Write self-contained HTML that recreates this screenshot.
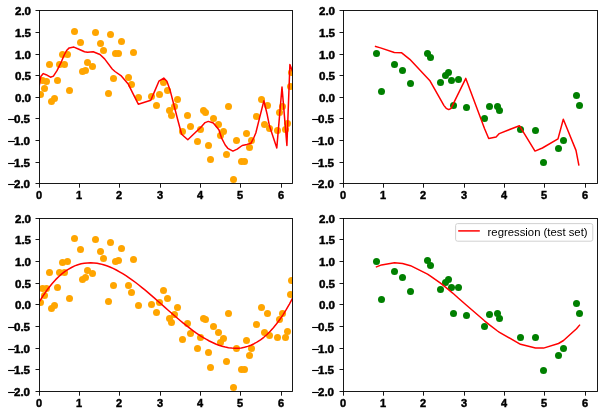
<!DOCTYPE html><html><head><meta charset="utf-8"><style>html,body{margin:0;padding:0;background:#fff;}svg{display:block;} .t{opacity:0.999}text{font-family:"Liberation Sans",sans-serif;}</style></head><body>
<svg width="603" height="415" viewBox="0 0 603 415">
<rect width="603" height="415" fill="#fff"/>
<defs><filter id="gf" x="0" y="0" width="603" height="415" filterUnits="userSpaceOnUse"><feOffset dx="0" dy="0"/></filter>
<clipPath id="c1"><rect x="39.5" y="10.5" width="253.0" height="173.0"/></clipPath>
<clipPath id="c2"><rect x="343.5" y="10.5" width="254.0" height="173.0"/></clipPath>
<clipPath id="c3"><rect x="39.5" y="218.5" width="253.0" height="173.0"/></clipPath>
<clipPath id="c4"><rect x="343.5" y="218.5" width="254.0" height="173.0"/></clipPath>
</defs>
<g clip-path="url(#c1)" fill="#ffa500">
<circle cx="74.5" cy="31.5" r="3.5"/>
<circle cx="95.5" cy="32.5" r="3.5"/>
<circle cx="110.5" cy="34.5" r="3.5"/>
<circle cx="80.5" cy="42.5" r="3.5"/>
<circle cx="100.5" cy="43.5" r="3.5"/>
<circle cx="121.5" cy="41.5" r="3.5"/>
<circle cx="103.5" cy="50.5" r="3.5"/>
<circle cx="115.5" cy="53.5" r="3.5"/>
<circle cx="118.5" cy="53.5" r="3.5"/>
<circle cx="62.5" cy="54.5" r="3.5"/>
<circle cx="67.5" cy="54.5" r="3.5"/>
<circle cx="49.5" cy="64.5" r="3.5"/>
<circle cx="59.5" cy="64.5" r="3.5"/>
<circle cx="64.5" cy="64.5" r="3.5"/>
<circle cx="87.5" cy="62.5" r="3.5"/>
<circle cx="92.5" cy="66.5" r="3.5"/>
<circle cx="133.5" cy="52.5" r="3.5"/>
<circle cx="82.5" cy="71.5" r="3.5"/>
<circle cx="85.5" cy="70.5" r="3.5"/>
<circle cx="42.5" cy="80.5" r="3.5"/>
<circle cx="46.5" cy="81.5" r="3.5"/>
<circle cx="57.5" cy="80.5" r="3.5"/>
<circle cx="113.5" cy="78.5" r="3.5"/>
<circle cx="44.5" cy="88.5" r="3.5"/>
<circle cx="69.5" cy="90.5" r="3.5"/>
<circle cx="40.5" cy="94.5" r="3.5"/>
<circle cx="108.5" cy="93.5" r="3.5"/>
<circle cx="51.5" cy="101.5" r="3.5"/>
<circle cx="54.5" cy="98.5" r="3.5"/>
<circle cx="128.5" cy="77.5" r="3.5"/>
<circle cx="131.5" cy="84.5" r="3.5"/>
<circle cx="138.5" cy="97.5" r="3.5"/>
<circle cx="151.5" cy="96.5" r="3.5"/>
<circle cx="159.5" cy="94.5" r="3.5"/>
<circle cx="156.5" cy="105.5" r="3.5"/>
<circle cx="163.5" cy="82.5" r="3.5"/>
<circle cx="167.5" cy="90.5" r="3.5"/>
<circle cx="177.5" cy="99.5" r="3.5"/>
<circle cx="174.5" cy="106.5" r="3.5"/>
<circle cx="169.5" cy="110.5" r="3.5"/>
<circle cx="171.5" cy="115.5" r="3.5"/>
<circle cx="187.5" cy="115.5" r="3.5"/>
<circle cx="203.5" cy="110.5" r="3.5"/>
<circle cx="205.5" cy="112.5" r="3.5"/>
<circle cx="213.5" cy="118.5" r="3.5"/>
<circle cx="228.5" cy="106.5" r="3.5"/>
<circle cx="261.5" cy="99.5" r="3.5"/>
<circle cx="267.5" cy="105.5" r="3.5"/>
<circle cx="256.5" cy="116.5" r="3.5"/>
<circle cx="279.5" cy="112.5" r="3.5"/>
<circle cx="282.5" cy="106.5" r="3.5"/>
<circle cx="290.5" cy="86.5" r="3.5"/>
<circle cx="291.5" cy="72.5" r="3.5"/>
<circle cx="190.5" cy="126.5" r="3.5"/>
<circle cx="182.5" cy="131.5" r="3.5"/>
<circle cx="200.5" cy="129.5" r="3.5"/>
<circle cx="197.5" cy="141.5" r="3.5"/>
<circle cx="218.5" cy="124.5" r="3.5"/>
<circle cx="223.5" cy="131.5" r="3.5"/>
<circle cx="220.5" cy="135.5" r="3.5"/>
<circle cx="208.5" cy="145.5" r="3.5"/>
<circle cx="210.5" cy="159.5" r="3.5"/>
<circle cx="226.5" cy="154.5" r="3.5"/>
<circle cx="236.5" cy="140.5" r="3.5"/>
<circle cx="246.5" cy="133.5" r="3.5"/>
<circle cx="251.5" cy="140.5" r="3.5"/>
<circle cx="249.5" cy="147.5" r="3.5"/>
<circle cx="241.5" cy="161.5" r="3.5"/>
<circle cx="244.5" cy="161.5" r="3.5"/>
<circle cx="264.5" cy="124.5" r="3.5"/>
<circle cx="269.5" cy="128.5" r="3.5"/>
<circle cx="277.5" cy="130.5" r="3.5"/>
<circle cx="285.5" cy="129.5" r="3.5"/>
<circle cx="287.5" cy="123.5" r="3.5"/>
<circle cx="233.5" cy="179.5" r="3.5"/>
</g>
<g clip-path="url(#c3)" fill="#ffa500">
<circle cx="74.5" cy="238.5" r="3.5"/>
<circle cx="95.5" cy="239.5" r="3.5"/>
<circle cx="110.5" cy="242.5" r="3.5"/>
<circle cx="80.5" cy="249.5" r="3.5"/>
<circle cx="100.5" cy="251.5" r="3.5"/>
<circle cx="121.5" cy="248.5" r="3.5"/>
<circle cx="103.5" cy="258.5" r="3.5"/>
<circle cx="115.5" cy="261.5" r="3.5"/>
<circle cx="118.5" cy="260.5" r="3.5"/>
<circle cx="62.5" cy="262.5" r="3.5"/>
<circle cx="67.5" cy="261.5" r="3.5"/>
<circle cx="49.5" cy="272.5" r="3.5"/>
<circle cx="59.5" cy="272.5" r="3.5"/>
<circle cx="64.5" cy="272.5" r="3.5"/>
<circle cx="87.5" cy="270.5" r="3.5"/>
<circle cx="92.5" cy="273.5" r="3.5"/>
<circle cx="133.5" cy="259.5" r="3.5"/>
<circle cx="82.5" cy="279.5" r="3.5"/>
<circle cx="85.5" cy="277.5" r="3.5"/>
<circle cx="42.5" cy="288.5" r="3.5"/>
<circle cx="46.5" cy="288.5" r="3.5"/>
<circle cx="57.5" cy="287.5" r="3.5"/>
<circle cx="113.5" cy="285.5" r="3.5"/>
<circle cx="44.5" cy="295.5" r="3.5"/>
<circle cx="69.5" cy="298.5" r="3.5"/>
<circle cx="40.5" cy="302.5" r="3.5"/>
<circle cx="108.5" cy="301.5" r="3.5"/>
<circle cx="51.5" cy="308.5" r="3.5"/>
<circle cx="54.5" cy="305.5" r="3.5"/>
<circle cx="128.5" cy="285.5" r="3.5"/>
<circle cx="131.5" cy="292.5" r="3.5"/>
<circle cx="138.5" cy="305.5" r="3.5"/>
<circle cx="151.5" cy="304.5" r="3.5"/>
<circle cx="159.5" cy="302.5" r="3.5"/>
<circle cx="156.5" cy="312.5" r="3.5"/>
<circle cx="163.5" cy="290.5" r="3.5"/>
<circle cx="167.5" cy="298.5" r="3.5"/>
<circle cx="177.5" cy="307.5" r="3.5"/>
<circle cx="174.5" cy="314.5" r="3.5"/>
<circle cx="169.5" cy="318.5" r="3.5"/>
<circle cx="171.5" cy="322.5" r="3.5"/>
<circle cx="187.5" cy="323.5" r="3.5"/>
<circle cx="203.5" cy="318.5" r="3.5"/>
<circle cx="205.5" cy="319.5" r="3.5"/>
<circle cx="213.5" cy="326.5" r="3.5"/>
<circle cx="228.5" cy="313.5" r="3.5"/>
<circle cx="261.5" cy="307.5" r="3.5"/>
<circle cx="267.5" cy="313.5" r="3.5"/>
<circle cx="256.5" cy="324.5" r="3.5"/>
<circle cx="279.5" cy="319.5" r="3.5"/>
<circle cx="282.5" cy="313.5" r="3.5"/>
<circle cx="290.5" cy="294.5" r="3.5"/>
<circle cx="291.5" cy="280.5" r="3.5"/>
<circle cx="190.5" cy="333.5" r="3.5"/>
<circle cx="182.5" cy="339.5" r="3.5"/>
<circle cx="200.5" cy="337.5" r="3.5"/>
<circle cx="197.5" cy="348.5" r="3.5"/>
<circle cx="218.5" cy="332.5" r="3.5"/>
<circle cx="223.5" cy="338.5" r="3.5"/>
<circle cx="220.5" cy="342.5" r="3.5"/>
<circle cx="208.5" cy="352.5" r="3.5"/>
<circle cx="210.5" cy="367.5" r="3.5"/>
<circle cx="226.5" cy="361.5" r="3.5"/>
<circle cx="236.5" cy="348.5" r="3.5"/>
<circle cx="246.5" cy="340.5" r="3.5"/>
<circle cx="251.5" cy="348.5" r="3.5"/>
<circle cx="249.5" cy="355.5" r="3.5"/>
<circle cx="241.5" cy="369.5" r="3.5"/>
<circle cx="244.5" cy="369.5" r="3.5"/>
<circle cx="264.5" cy="332.5" r="3.5"/>
<circle cx="269.5" cy="335.5" r="3.5"/>
<circle cx="277.5" cy="337.5" r="3.5"/>
<circle cx="285.5" cy="337.5" r="3.5"/>
<circle cx="287.5" cy="331.5" r="3.5"/>
<circle cx="233.5" cy="387.5" r="3.5"/>
</g>
<g clip-path="url(#c2)" fill="#008000">
<circle cx="376.5" cy="53.5" r="3.5"/>
<circle cx="381.5" cy="91.5" r="3.5"/>
<circle cx="394.5" cy="64.5" r="3.5"/>
<circle cx="402.5" cy="70.5" r="3.5"/>
<circle cx="410.5" cy="83.5" r="3.5"/>
<circle cx="427.5" cy="53.5" r="3.5"/>
<circle cx="430.5" cy="57.5" r="3.5"/>
<circle cx="440.5" cy="82.5" r="3.5"/>
<circle cx="445.5" cy="75.5" r="3.5"/>
<circle cx="448.5" cy="72.5" r="3.5"/>
<circle cx="451.5" cy="80.5" r="3.5"/>
<circle cx="458.5" cy="79.5" r="3.5"/>
<circle cx="453.5" cy="105.5" r="3.5"/>
<circle cx="466.5" cy="107.5" r="3.5"/>
<circle cx="484.5" cy="118.5" r="3.5"/>
<circle cx="489.5" cy="106.5" r="3.5"/>
<circle cx="497.5" cy="106.5" r="3.5"/>
<circle cx="499.5" cy="110.5" r="3.5"/>
<circle cx="520.5" cy="129.5" r="3.5"/>
<circle cx="535.5" cy="130.5" r="3.5"/>
<circle cx="543.5" cy="162.5" r="3.5"/>
<circle cx="558.5" cy="148.5" r="3.5"/>
<circle cx="563.5" cy="140.5" r="3.5"/>
<circle cx="576.5" cy="95.5" r="3.5"/>
<circle cx="579.5" cy="105.5" r="3.5"/>
</g>
<g clip-path="url(#c4)" fill="#008000">
<circle cx="376.5" cy="261.5" r="3.5"/>
<circle cx="381.5" cy="299.5" r="3.5"/>
<circle cx="394.5" cy="271.5" r="3.5"/>
<circle cx="402.5" cy="277.5" r="3.5"/>
<circle cx="410.5" cy="291.5" r="3.5"/>
<circle cx="427.5" cy="260.5" r="3.5"/>
<circle cx="430.5" cy="265.5" r="3.5"/>
<circle cx="440.5" cy="289.5" r="3.5"/>
<circle cx="445.5" cy="282.5" r="3.5"/>
<circle cx="448.5" cy="279.5" r="3.5"/>
<circle cx="451.5" cy="287.5" r="3.5"/>
<circle cx="458.5" cy="287.5" r="3.5"/>
<circle cx="453.5" cy="313.5" r="3.5"/>
<circle cx="466.5" cy="315.5" r="3.5"/>
<circle cx="484.5" cy="326.5" r="3.5"/>
<circle cx="489.5" cy="314.5" r="3.5"/>
<circle cx="497.5" cy="313.5" r="3.5"/>
<circle cx="499.5" cy="318.5" r="3.5"/>
<circle cx="520.5" cy="337.5" r="3.5"/>
<circle cx="535.5" cy="337.5" r="3.5"/>
<circle cx="543.5" cy="370.5" r="3.5"/>
<circle cx="558.5" cy="355.5" r="3.5"/>
<circle cx="563.5" cy="348.5" r="3.5"/>
<circle cx="576.5" cy="303.5" r="3.5"/>
<circle cx="579.5" cy="313.5" r="3.5"/>
</g>
<g clip-path="url(#c1)"><polyline points="39.5,84.5 40.0,80.5 40.8,76.6 43.3,73.6 46.1,74.7 50.5,77.2 53.4,76.1 57.0,70.7 61.3,62.0 64.2,55.0 66.6,50.5 69.2,47.9 73.9,47.1 78.9,49.2 84.5,51.7 87.5,52.3 93.2,51.7 100.0,54.5 104.6,58.9 112.2,69.0 115.0,71.5 120.9,75.6 128.4,84.3 132.6,92.9 138.3,104.2 150.8,100.2 154.7,91.1 158.9,81.2 163.8,78.1 166.9,81.2 170.0,89.9 177.6,119.3 181.6,134.2 187.8,139.8 193.5,134.3 200.9,127.3 205.1,122.6 208.3,121.4 213.3,123.0 218.9,129.8 221.4,137.6 225.2,145.0 227.8,148.3 232.9,151.1 237.2,149.1 242.2,145.5 246.9,144.4 250.9,143.3 253.9,137.5 255.8,133.0 259.5,118.1 263.9,100.8 267.0,113.7 269.5,126.1 276.8,147.9 282.0,87.1 286.9,145.4 289.9,64.5 293.5,74.0" fill="none" stroke="#ff0000" stroke-width="1.5" stroke-linejoin="round" stroke-linecap="square"/></g>
<g clip-path="url(#c2)"><polyline points="375.6,46.5 380.5,47.9 394.3,52.5 401.7,52.8 409.8,59.3 429.7,80.4 444.0,105.6 446.2,108.3 448.7,109.6 451.2,108.3 452.5,105.3 465.8,78.4 484.5,128.5 488.7,138.5 496.1,137.0 499.3,133.6 519.4,125.7 535.0,151.1 542.4,148.0 558.0,138.9 563.3,119.3 576.0,150.4 578.8,164.9" fill="none" stroke="#ff0000" stroke-width="1.5" stroke-linejoin="round" stroke-linecap="square"/></g>
<g clip-path="url(#c3)"><polyline points="39.4,301.7 42.6,296.5 45.8,291.8 49.0,287.4 52.2,283.5 55.4,279.9 58.6,276.7 61.8,273.9 65.0,271.4 68.2,269.3 71.5,267.5 74.7,265.9 77.9,264.7 81.1,263.8 84.3,263.2 87.5,262.9 90.7,262.8 93.9,262.9 97.1,263.3 100.3,263.9 103.5,264.8 106.7,265.8 109.9,267.0 113.1,268.4 116.3,270.0 119.5,271.8 122.7,273.7 125.9,275.7 129.1,277.9 132.3,280.1 135.6,282.5 138.8,285.0 142.0,287.6 145.2,290.2 148.4,292.9 151.6,295.6 154.8,298.4 158.0,301.2 161.2,304.0 164.4,306.9 167.6,309.7 170.8,312.5 174.0,315.3 177.2,318.0 180.4,320.7 183.6,323.4 186.8,325.9 190.0,328.4 193.2,330.8 196.4,333.1 199.7,335.3 202.9,337.3 206.1,339.2 209.3,341.0 212.5,342.5 215.7,344.0 218.9,345.2 222.1,346.3 225.3,347.1 228.5,347.7 231.7,348.1 234.9,348.3 238.1,348.2 241.3,347.9 244.5,347.3 247.7,346.4 250.9,345.2 254.1,343.7 257.3,341.9 260.5,339.8 263.8,337.3 267.0,334.5 270.2,331.3 273.4,327.7 276.6,323.8 279.8,319.5 283.0,314.8 286.2,309.7 289.4,304.1 292.6,298.1" fill="none" stroke="#ff0000" stroke-width="1.5" stroke-linejoin="round"/></g>
<g clip-path="url(#c4)"><polyline points="376.5,266.9 381.5,264.9 394.5,262.8 402.5,263.5 410.5,265.7 427.5,274.1 430.5,276.1 440.5,283.2 445.5,287.2 448.5,289.6 451.5,292.1 453.5,293.8 458.5,298.2 466.5,305.2 484.5,320.8 489.5,324.9 497.5,331.0 499.5,332.4 520.5,344.3 535.5,348.1 543.5,348.1 558.5,343.5 563.5,340.5 576.5,328.7 579.5,325.2" fill="none" stroke="#ff0000" stroke-width="1.5" stroke-linejoin="round" stroke-linecap="square"/></g>
<g filter="url(#gf)">
<rect x="39.5" y="10.5" width="253.0" height="173.0" fill="none" stroke="#000" stroke-width="0.9"/>
<text x="39.10" y="199.0" font-size="11" text-anchor="middle" font-weight="bold" stroke="#000" stroke-width="0.45">0</text>
<text x="79.10" y="199.0" font-size="11" text-anchor="middle" font-weight="bold" stroke="#000" stroke-width="0.45">1</text>
<text x="119.10" y="199.0" font-size="11" text-anchor="middle" font-weight="bold" stroke="#000" stroke-width="0.45">2</text>
<text x="160.10" y="199.0" font-size="11" text-anchor="middle" font-weight="bold" stroke="#000" stroke-width="0.45">3</text>
<text x="200.10" y="199.0" font-size="11" text-anchor="middle" font-weight="bold" stroke="#000" stroke-width="0.45">4</text>
<text x="240.10" y="199.0" font-size="11" text-anchor="middle" font-weight="bold" stroke="#000" stroke-width="0.45">5</text>
<text x="281.10" y="199.0" font-size="11" text-anchor="middle" font-weight="bold" stroke="#000" stroke-width="0.45">6</text>
<text transform="translate(31.10,15.00) scale(1.06,1)" font-size="11" text-anchor="end" font-weight="bold" stroke="#000" stroke-width="0.45">2.0</text>
<text transform="translate(31.10,37.00) scale(1.06,1)" font-size="11" text-anchor="end" font-weight="bold" stroke="#000" stroke-width="0.45">1.5</text>
<text transform="translate(31.10,59.00) scale(1.06,1)" font-size="11" text-anchor="end" font-weight="bold" stroke="#000" stroke-width="0.45">1.0</text>
<text transform="translate(31.10,80.00) scale(1.06,1)" font-size="11" text-anchor="end" font-weight="bold" stroke="#000" stroke-width="0.45">0.5</text>
<text transform="translate(31.10,102.00) scale(1.06,1)" font-size="11" text-anchor="end" font-weight="bold" stroke="#000" stroke-width="0.45">0.0</text>
<text transform="translate(30.10,123.00) scale(1.06,1)" font-size="11" text-anchor="end" font-weight="bold" stroke="#000" stroke-width="0.45">0.5</text>
<rect x="8.10" y="118.95" width="6.8" height="1.1" fill="#000"/>
<text transform="translate(30.10,145.00) scale(1.06,1)" font-size="11" text-anchor="end" font-weight="bold" stroke="#000" stroke-width="0.45">1.0</text>
<rect x="8.10" y="140.95" width="6.8" height="1.1" fill="#000"/>
<text transform="translate(30.10,167.00) scale(1.06,1)" font-size="11" text-anchor="end" font-weight="bold" stroke="#000" stroke-width="0.45">1.5</text>
<rect x="8.10" y="162.95" width="6.8" height="1.1" fill="#000"/>
<text transform="translate(30.10,188.00) scale(1.06,1)" font-size="11" text-anchor="end" font-weight="bold" stroke="#000" stroke-width="0.45">2.0</text>
<rect x="8.10" y="183.95" width="6.8" height="1.1" fill="#000"/>
<path d="M39.50,183.5v4.2 M79.50,183.5v4.2 M119.50,183.5v4.2 M160.50,183.5v4.2 M200.50,183.5v4.2 M240.50,183.5v4.2 M281.50,183.5v4.2 M39.5,10.50h-4.0 M39.5,32.50h-4.0 M39.5,54.50h-4.0 M39.5,75.50h-4.0 M39.5,97.50h-4.0 M39.5,118.50h-4.0 M39.5,140.50h-4.0 M39.5,162.50h-4.0 M39.5,183.50h-4.0" stroke="#000" stroke-width="0.9"/>
<rect x="343.5" y="10.5" width="254.0" height="173.0" fill="none" stroke="#000" stroke-width="0.9"/>
<text x="343.10" y="199.0" font-size="11" text-anchor="middle" font-weight="bold" stroke="#000" stroke-width="0.45">0</text>
<text x="383.10" y="199.0" font-size="11" text-anchor="middle" font-weight="bold" stroke="#000" stroke-width="0.45">1</text>
<text x="423.10" y="199.0" font-size="11" text-anchor="middle" font-weight="bold" stroke="#000" stroke-width="0.45">2</text>
<text x="464.10" y="199.0" font-size="11" text-anchor="middle" font-weight="bold" stroke="#000" stroke-width="0.45">3</text>
<text x="504.10" y="199.0" font-size="11" text-anchor="middle" font-weight="bold" stroke="#000" stroke-width="0.45">4</text>
<text x="544.10" y="199.0" font-size="11" text-anchor="middle" font-weight="bold" stroke="#000" stroke-width="0.45">5</text>
<text x="585.10" y="199.0" font-size="11" text-anchor="middle" font-weight="bold" stroke="#000" stroke-width="0.45">6</text>
<text transform="translate(335.10,15.00) scale(1.06,1)" font-size="11" text-anchor="end" font-weight="bold" stroke="#000" stroke-width="0.45">2.0</text>
<text transform="translate(335.10,37.00) scale(1.06,1)" font-size="11" text-anchor="end" font-weight="bold" stroke="#000" stroke-width="0.45">1.5</text>
<text transform="translate(335.10,59.00) scale(1.06,1)" font-size="11" text-anchor="end" font-weight="bold" stroke="#000" stroke-width="0.45">1.0</text>
<text transform="translate(335.10,80.00) scale(1.06,1)" font-size="11" text-anchor="end" font-weight="bold" stroke="#000" stroke-width="0.45">0.5</text>
<text transform="translate(335.10,102.00) scale(1.06,1)" font-size="11" text-anchor="end" font-weight="bold" stroke="#000" stroke-width="0.45">0.0</text>
<text transform="translate(334.10,123.00) scale(1.06,1)" font-size="11" text-anchor="end" font-weight="bold" stroke="#000" stroke-width="0.45">0.5</text>
<rect x="312.10" y="118.95" width="6.8" height="1.1" fill="#000"/>
<text transform="translate(334.10,145.00) scale(1.06,1)" font-size="11" text-anchor="end" font-weight="bold" stroke="#000" stroke-width="0.45">1.0</text>
<rect x="312.10" y="140.95" width="6.8" height="1.1" fill="#000"/>
<text transform="translate(334.10,167.00) scale(1.06,1)" font-size="11" text-anchor="end" font-weight="bold" stroke="#000" stroke-width="0.45">1.5</text>
<rect x="312.10" y="162.95" width="6.8" height="1.1" fill="#000"/>
<text transform="translate(334.10,188.00) scale(1.06,1)" font-size="11" text-anchor="end" font-weight="bold" stroke="#000" stroke-width="0.45">2.0</text>
<rect x="312.10" y="183.95" width="6.8" height="1.1" fill="#000"/>
<path d="M343.50,183.5v4.2 M383.50,183.5v4.2 M423.50,183.5v4.2 M464.50,183.5v4.2 M504.50,183.5v4.2 M544.50,183.5v4.2 M585.50,183.5v4.2 M343.5,10.50h-4.0 M343.5,32.50h-4.0 M343.5,54.50h-4.0 M343.5,75.50h-4.0 M343.5,97.50h-4.0 M343.5,118.50h-4.0 M343.5,140.50h-4.0 M343.5,162.50h-4.0 M343.5,183.50h-4.0" stroke="#000" stroke-width="0.9"/>
<rect x="39.5" y="218.5" width="253.0" height="173.0" fill="none" stroke="#000" stroke-width="0.9"/>
<text x="39.10" y="407.0" font-size="11" text-anchor="middle" font-weight="bold" stroke="#000" stroke-width="0.45">0</text>
<text x="79.10" y="407.0" font-size="11" text-anchor="middle" font-weight="bold" stroke="#000" stroke-width="0.45">1</text>
<text x="119.10" y="407.0" font-size="11" text-anchor="middle" font-weight="bold" stroke="#000" stroke-width="0.45">2</text>
<text x="160.10" y="407.0" font-size="11" text-anchor="middle" font-weight="bold" stroke="#000" stroke-width="0.45">3</text>
<text x="200.10" y="407.0" font-size="11" text-anchor="middle" font-weight="bold" stroke="#000" stroke-width="0.45">4</text>
<text x="240.10" y="407.0" font-size="11" text-anchor="middle" font-weight="bold" stroke="#000" stroke-width="0.45">5</text>
<text x="281.10" y="407.0" font-size="11" text-anchor="middle" font-weight="bold" stroke="#000" stroke-width="0.45">6</text>
<text transform="translate(31.10,223.00) scale(1.06,1)" font-size="11" text-anchor="end" font-weight="bold" stroke="#000" stroke-width="0.45">2.0</text>
<text transform="translate(31.10,244.00) scale(1.06,1)" font-size="11" text-anchor="end" font-weight="bold" stroke="#000" stroke-width="0.45">1.5</text>
<text transform="translate(31.10,266.00) scale(1.06,1)" font-size="11" text-anchor="end" font-weight="bold" stroke="#000" stroke-width="0.45">1.0</text>
<text transform="translate(31.10,288.00) scale(1.06,1)" font-size="11" text-anchor="end" font-weight="bold" stroke="#000" stroke-width="0.45">0.5</text>
<text transform="translate(31.10,309.00) scale(1.06,1)" font-size="11" text-anchor="end" font-weight="bold" stroke="#000" stroke-width="0.45">0.0</text>
<text transform="translate(30.10,331.00) scale(1.06,1)" font-size="11" text-anchor="end" font-weight="bold" stroke="#000" stroke-width="0.45">0.5</text>
<rect x="8.10" y="326.95" width="6.8" height="1.1" fill="#000"/>
<text transform="translate(30.10,353.00) scale(1.06,1)" font-size="11" text-anchor="end" font-weight="bold" stroke="#000" stroke-width="0.45">1.0</text>
<rect x="8.10" y="348.95" width="6.8" height="1.1" fill="#000"/>
<text transform="translate(30.10,374.00) scale(1.06,1)" font-size="11" text-anchor="end" font-weight="bold" stroke="#000" stroke-width="0.45">1.5</text>
<rect x="8.10" y="369.95" width="6.8" height="1.1" fill="#000"/>
<text transform="translate(30.10,396.00) scale(1.06,1)" font-size="11" text-anchor="end" font-weight="bold" stroke="#000" stroke-width="0.45">2.0</text>
<rect x="8.10" y="391.95" width="6.8" height="1.1" fill="#000"/>
<path d="M39.50,391.5v4.2 M79.50,391.5v4.2 M119.50,391.5v4.2 M160.50,391.5v4.2 M200.50,391.5v4.2 M240.50,391.5v4.2 M281.50,391.5v4.2 M39.5,218.50h-4.0 M39.5,239.50h-4.0 M39.5,261.50h-4.0 M39.5,283.50h-4.0 M39.5,304.50h-4.0 M39.5,326.50h-4.0 M39.5,348.50h-4.0 M39.5,369.50h-4.0 M39.5,391.50h-4.0" stroke="#000" stroke-width="0.9"/>
<rect x="343.5" y="218.5" width="254.0" height="173.0" fill="none" stroke="#000" stroke-width="0.9"/>
<text x="343.10" y="407.0" font-size="11" text-anchor="middle" font-weight="bold" stroke="#000" stroke-width="0.45">0</text>
<text x="383.10" y="407.0" font-size="11" text-anchor="middle" font-weight="bold" stroke="#000" stroke-width="0.45">1</text>
<text x="423.10" y="407.0" font-size="11" text-anchor="middle" font-weight="bold" stroke="#000" stroke-width="0.45">2</text>
<text x="464.10" y="407.0" font-size="11" text-anchor="middle" font-weight="bold" stroke="#000" stroke-width="0.45">3</text>
<text x="504.10" y="407.0" font-size="11" text-anchor="middle" font-weight="bold" stroke="#000" stroke-width="0.45">4</text>
<text x="544.10" y="407.0" font-size="11" text-anchor="middle" font-weight="bold" stroke="#000" stroke-width="0.45">5</text>
<text x="585.10" y="407.0" font-size="11" text-anchor="middle" font-weight="bold" stroke="#000" stroke-width="0.45">6</text>
<text transform="translate(335.10,223.00) scale(1.06,1)" font-size="11" text-anchor="end" font-weight="bold" stroke="#000" stroke-width="0.45">2.0</text>
<text transform="translate(335.10,244.00) scale(1.06,1)" font-size="11" text-anchor="end" font-weight="bold" stroke="#000" stroke-width="0.45">1.5</text>
<text transform="translate(335.10,266.00) scale(1.06,1)" font-size="11" text-anchor="end" font-weight="bold" stroke="#000" stroke-width="0.45">1.0</text>
<text transform="translate(335.10,288.00) scale(1.06,1)" font-size="11" text-anchor="end" font-weight="bold" stroke="#000" stroke-width="0.45">0.5</text>
<text transform="translate(335.10,309.00) scale(1.06,1)" font-size="11" text-anchor="end" font-weight="bold" stroke="#000" stroke-width="0.45">0.0</text>
<text transform="translate(334.10,331.00) scale(1.06,1)" font-size="11" text-anchor="end" font-weight="bold" stroke="#000" stroke-width="0.45">0.5</text>
<rect x="312.10" y="326.95" width="6.8" height="1.1" fill="#000"/>
<text transform="translate(334.10,353.00) scale(1.06,1)" font-size="11" text-anchor="end" font-weight="bold" stroke="#000" stroke-width="0.45">1.0</text>
<rect x="312.10" y="348.95" width="6.8" height="1.1" fill="#000"/>
<text transform="translate(334.10,374.00) scale(1.06,1)" font-size="11" text-anchor="end" font-weight="bold" stroke="#000" stroke-width="0.45">1.5</text>
<rect x="312.10" y="369.95" width="6.8" height="1.1" fill="#000"/>
<text transform="translate(334.10,396.00) scale(1.06,1)" font-size="11" text-anchor="end" font-weight="bold" stroke="#000" stroke-width="0.45">2.0</text>
<rect x="312.10" y="391.95" width="6.8" height="1.1" fill="#000"/>
<path d="M343.50,391.5v4.2 M383.50,391.5v4.2 M423.50,391.5v4.2 M464.50,391.5v4.2 M504.50,391.5v4.2 M544.50,391.5v4.2 M585.50,391.5v4.2 M343.5,218.50h-4.0 M343.5,239.50h-4.0 M343.5,261.50h-4.0 M343.5,283.50h-4.0 M343.5,304.50h-4.0 M343.5,326.50h-4.0 M343.5,348.50h-4.0 M343.5,369.50h-4.0 M343.5,391.50h-4.0" stroke="#000" stroke-width="0.9"/>
</g>
<g filter="url(#gf)">
<rect x="455.6" y="223.6" width="137.2" height="17.6" rx="2" fill="#fff" fill-opacity="0.8" stroke="#cccccc" stroke-width="0.9"/>
<path d="M458.2,230.9H479.8" stroke="#ff0000" stroke-width="1.5"/>
<text x="487.6" y="236.2" font-size="10.5" textLength="100" lengthAdjust="spacingAndGlyphs">regression (test set)</text>
</g>
</svg></body></html>
